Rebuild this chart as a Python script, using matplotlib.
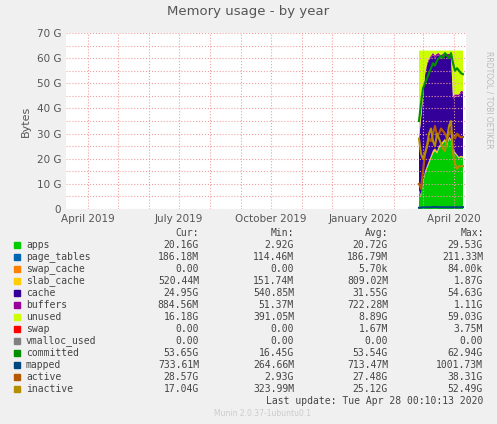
import matplotlib
matplotlib.use("Agg")
import matplotlib.pyplot as plt
import matplotlib.dates as mdates
import numpy as np
import datetime as dt

start = dt.date(2020, 2, 26)
dates = [start + dt.timedelta(days=2*i) for i in range(23)]
apps = [7, 5, 10, 14, 16, 18, 20, 22, 23, 22, 24, 25, 26, 27, 25, 28, 27, 23, 22, 21, 20, 20.5, 20.2]
page_tables = [0.15, 0.15, 0.18, 0.18, 0.19, 0.19, 0.19, 0.19, 0.19, 0.19, 0.19, 0.19, 0.19, 0.19, 0.19, 0.19, 0.19, 0.19, 0.19, 0.19, 0.19, 0.19, 0.19]
swap_cache = [0]*23
slab_cache = [0.3, 0.4, 0.6, 0.8, 0.9, 1.0, 1.0, 1.1, 0.9, 0.8, 0.9, 0.8, 0.8, 0.7, 0.7, 0.6, 0.6, 0.6, 0.5, 0.5, 0.5, 0.5, 0.5]
cache = [20, 30, 33, 38, 40, 40, 39, 38, 36, 38, 36, 34, 34, 33, 35, 32, 33, 20, 22, 23, 24, 25, 25]
buffers = [0.5, 0.6, 0.7, 0.8, 0.8, 0.8, 0.8, 0.9, 0.9, 0.9, 0.9, 0.9, 0.9, 0.9, 0.9, 0.9, 0.9, 0.9, 0.9, 0.9, 0.9, 0.9, 0.9]
total = 63.0
swap = [0]*23
committed = [35, 42, 48, 50, 52, 54, 56, 58, 57, 59, 60, 61, 60, 62, 61, 60, 62, 58, 55, 56, 55, 54, 53.6]
mapped = [0.5, 0.6, 0.7, 0.7, 0.7, 0.7, 0.7, 0.8, 0.8, 0.8, 0.7, 0.7, 0.7, 0.7, 0.7, 0.7, 0.7, 0.7, 0.7, 0.7, 0.7, 0.7, 0.73]
active = [10, 8, 15, 22, 25, 28, 27, 30, 33, 29, 30, 32, 31, 30, 28, 30, 31, 29, 28, 30, 29, 28.5, 28.6]
inactive = [28, 22, 20, 22, 25, 30, 32, 27, 25, 30, 28, 26, 24, 23, 28, 33, 35, 22, 18, 16, 17, 17, 17]

d = np.array(dates, dtype="datetime64[D]").astype(object)
base = np.array(apps) + np.array(page_tables) + np.array(swap_cache) + np.array(slab_cache) + np.array(cache) + np.array(buffers)
unused = total - base

fig = plt.figure(figsize=(4.97, 4.24), dpi=100)
fig.patch.set_facecolor("#f0f0f0")
ax = fig.add_axes([66/497, 1-209/424, 400/497, 176/424])
ax.set_facecolor("white")
cols = ["#00cc00", "#0066b3", "#ff8000", "#ffcc00", "#330099", "#990099", "#ccff00", "#ff0000"]
ax.stackplot(dates, apps, page_tables, swap_cache, slab_cache, cache, buffers, unused, swap,
             colors=cols, linewidth=0)
ax.plot(dates, committed, color="#008f00", lw=1.5)
ax.plot(dates, mapped, color="#00487d", lw=1.5)
ax.plot(dates, active, color="#b35a00", lw=1.5)
ax.plot(dates, inactive, color="#b38f00", lw=1.5)
ax.set_xlim(dt.date(2019, 3, 10), dt.date(2020, 4, 13))
ax.set_ylim(0, 70)
ax.set_yticks(range(0, 71, 10))
ax.set_yticklabels(["0"] + [f"{v} G" for v in range(10, 71, 10)])
ax.set_yticks(range(5, 70, 10), minor=True)
ax.xaxis.set_major_locator(mdates.MonthLocator(bymonth=[1, 4, 7, 10]))
ax.xaxis.set_major_formatter(mdates.DateFormatter("%B %Y"))
ax.xaxis.set_minor_locator(mdates.MonthLocator())
ax.grid(which="both", color="#f0a0a0", ls=":", lw=0.8)
ax.tick_params(labelsize=7.5, colors="#555555", length=0)
ax.tick_params(which="minor", length=0)
for s in ax.spines.values():
    s.set_visible(False)
ax.set_ylabel("Bytes", fontsize=8, color="#555555")
fig.text(0.5, 1-12/424, "Memory usage - by year", ha="center", va="center", fontsize=9.5, color="#555555")
fig.text(489/497, 1-100/424, "RRDTOOL / TOBI OETIKER", rotation=270, ha="center", va="center", fontsize=5.5, color="#bbbbbb")

mono = dict(family="DejaVu Sans Mono", fontsize=7, color="#444444")
names = ["apps", "page_tables", "swap_cache", "slab_cache", "cache", "buffers", "unused", "swap", "vmalloc_used", "committed", "mapped", "active", "inactive"]
lcols = ["#00cc00", "#0066b3", "#ff8000", "#ffcc00", "#330099", "#990099", "#ccff00", "#ff0000", "#808080", "#008f00", "#00487d", "#b35a00", "#b38f00"]
cur = ["20.16G", "186.18M", "0.00", "520.44M", "24.95G", "884.56M", "16.18G", "0.00", "0.00", "53.65G", "733.61M", "28.57G", "17.04G"]
mn = ["2.92G", "114.46M", "0.00", "151.74M", "540.85M", "51.37M", "391.05M", "0.00", "0.00", "16.45G", "264.66M", "2.93G", "323.99M"]
av = ["20.72G", "186.79M", "5.70k", "809.02M", "31.55G", "722.28M", "8.89G", "1.67M", "0.00", "53.54G", "713.47M", "27.48G", "25.12G"]
mx = ["29.53G", "211.33M", "84.00k", "1.87G", "54.63G", "1.11G", "59.03G", "3.75M", "0.00", "62.94G", "1001.73M", "38.31G", "52.49G"]
def fy(p): return 1 - p/424
fig.text(199/497, fy(233), "Cur:", ha="right", va="center", **mono)
fig.text(294/497, fy(233), "Min:", ha="right", va="center", **mono)
fig.text(388/497, fy(233), "Avg:", ha="right", va="center", **mono)
fig.text(484/497, fy(233), "Max:", ha="right", va="center", **mono)
for i, n in enumerate(names):
    y = 245 + i*12
    fig.patches.append(plt.Rectangle((14/497, fy(y+3)), 6/497, 6/424, transform=fig.transFigure, color=lcols[i]))
    fig.text(26/497, fy(y), n, ha="left", va="center", **mono)
    fig.text(199/497, fy(y), cur[i], ha="right", va="center", **mono)
    fig.text(294/497, fy(y), mn[i], ha="right", va="center", **mono)
    fig.text(388/497, fy(y), av[i], ha="right", va="center", **mono)
    fig.text(483/497, fy(y), mx[i], ha="right", va="center", **mono)
fig.text(483/497, fy(401), "Last update: Tue Apr 28 00:10:13 2020", ha="right", va="center", **mono)
fig.text(262/497, fy(413), "Munin 2.0.37-1ubuntu0.1", ha="center", va="center", fontsize=5.5, color="#cccccc")
fig.savefig("out.png", dpi=100, facecolor=fig.get_facecolor())
